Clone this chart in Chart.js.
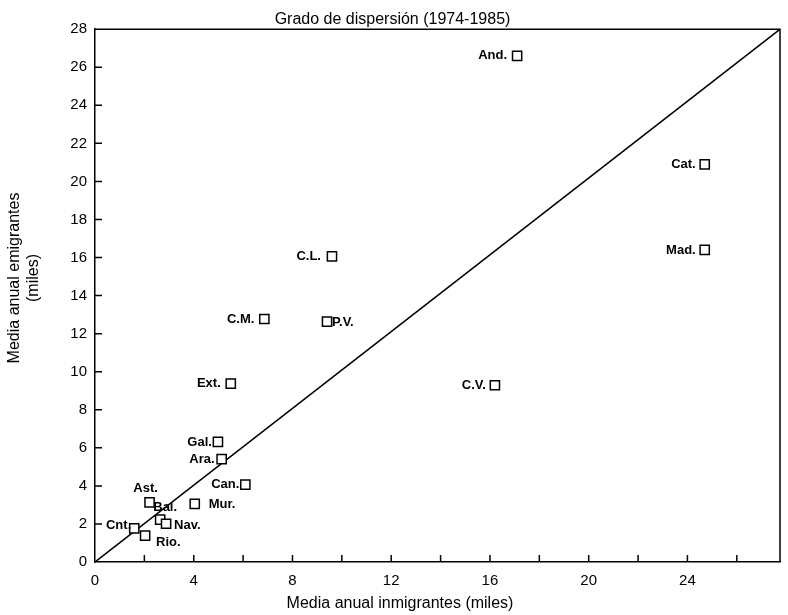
<!DOCTYPE html>
<html>
<head>
<meta charset="utf-8">
<script src="https://cdn.jsdelivr.net/npm/chart.js@4"></script>
<style>
  html, body { margin: 0; padding: 0; background: #fff; }
  canvas { display: block; }
</style>
</head>
<body>
<canvas id="myChart" width="788" height="615"></canvas>
<script>
// regions (comunidades autónomas)
const regions = ["And.", "Cat.", "Mad.", "C.L.", "C.M.", "P.V.", "C.V.", "Ext.", "Gal.", "Ara.", "Can.", "Mur.", "Ast.", "Bal.", "Nav.", "Cnt.", "Rio."];
// media anual inmigrantes (miles)
const inmigrantes = [17.1, 24.7, 24.7, 9.6, 6.86, 9.4, 16.2, 5.5, 4.98, 5.13, 6.09, 4.04, 2.21, 2.64, 2.88, 1.59, 2.03];
// media anual emigrantes (miles)
const emigrantes = [26.6, 20.9, 16.4, 16.06, 12.77, 12.63, 9.29, 9.37, 6.31, 5.41, 4.07, 3.05, 3.13, 2.23, 2.01, 1.77, 1.39];

const xMax = 27.75;
const yMax = 28;
const diagX = [0, xMax];
const diagY = [0, yMax];

const xTickLabels = [0, 4, 8, 12, 16, 20, 24];
const xTickMarks = [2, 4, 6, 8, 10, 12, 14, 16, 18, 20, 22, 24, 26];
const yTickLabels = [0, 2, 4, 6, 8, 10, 12, 14, 16, 18, 20, 22, 24, 26, 28];
const yTickMarks = [2, 4, 6, 8, 10, 12, 14, 16, 18, 20, 22, 24, 26];

// where each region label sits next to its square
const labelAlign = ["right", "right", "right", "right", "right", "left", "right", "right", "right", "right", "right", "left", "center", "center", "left", "right", "left"];
const labelDx = [-10, -9, -9, -11, -10, 5, -9, -10, -6, -7, -6, 14, -4, 5, 8, -3, 11];
const labelDy = [0, 0, 0, 0, 0, 1, 0, 0, 0, 0, 0, 0, -14, -12, 2, -3, 7];

const titleFont = '16px "Liberation Sans", Arial, sans-serif';

const extras = {
  id: "extras",
  afterDatasetsDraw(chart) {
    const { ctx, chartArea: a, scales: { x, y } } = chart;
    ctx.save();
    ctx.strokeStyle = "#000";
    ctx.lineWidth = 1.5;
    ctx.beginPath();
    // top and right side of the box
    ctx.moveTo(a.left, a.top);
    ctx.lineTo(a.right, a.top);
    ctx.lineTo(a.right, a.bottom);
    // tick marks point into the plot
    xTickMarks.forEach((v) => {
      const px = x.getPixelForValue(v);
      ctx.moveTo(px, a.bottom);
      ctx.lineTo(px, a.bottom - 7);
    });
    yTickMarks.forEach((v) => {
      const py = y.getPixelForValue(v);
      ctx.moveTo(a.left, py);
      ctx.lineTo(a.left + 7, py);
    });
    ctx.stroke();

    // region labels
    ctx.fillStyle = "#000";
    ctx.font = 'bold 13px "Liberation Sans", Arial, sans-serif';
    ctx.textBaseline = "middle";
    regions.forEach((name, i) => {
      const px = x.getPixelForValue(inmigrantes[i]);
      const py = y.getPixelForValue(emigrantes[i]);
      ctx.textAlign = labelAlign[i];
      ctx.fillText(name, px + labelDx[i], py + labelDy[i]);
    });

    // axis titles
    ctx.font = titleFont;
    ctx.textAlign = "center";
    ctx.fillText("Media anual inmigrantes (miles)", 400, 604);
    ctx.translate(15, 278);
    ctx.rotate(-Math.PI / 2);
    ctx.fillText("Media anual emigrantes", 0, 0);
    ctx.fillText("(miles)", 0, 19);
    ctx.restore();
  },
};

const ctx = document.getElementById("myChart");

new Chart(ctx, {
  type: "scatter",
  data: {
    datasets: [
      {
        type: "line",
        data: diagX.map((v, i) => ({ x: v, y: diagY[i] })),
        borderColor: "#000",
        borderWidth: 1.5,
        pointRadius: 0,
        fill: false,
        order: 2,
      },
      {
        data: inmigrantes.map((v, i) => ({ x: v, y: emigrantes[i] })),
        pointStyle: "rect",
        pointRadius: 6.5,
        borderWidth: 1.5,
        borderColor: "#000",
        backgroundColor: "#fff",
        order: 1,
      },
    ],
  },
  options: {
    responsive: false,
    animation: false,
    devicePixelRatio: 1,
    layout: {
      padding: { left: 0, right: 3, top: 0, bottom: 0 },
    },
    scales: {
      x: {
        type: "linear",
        min: 0,
        max: xMax,
        afterBuildTicks: (s) => {
          s.ticks = xTickLabels.map((v) => ({ value: v }));
        },
        afterFit: (s) => {
          s.height = 53;
        },
        grid: { display: false, drawTicks: false },
        border: { display: true, color: "#000", width: 1.5 },
        ticks: {
          color: "#000",
          padding: 10,
          maxRotation: 0,
          font: { family: '"Liberation Sans", Arial, sans-serif', size: 15 },
        },
      },
      y: {
        type: "linear",
        min: 0,
        max: yMax,
        afterBuildTicks: (s) => {
          s.ticks = yTickLabels.map((v) => ({ value: v }));
        },
        afterFit: (s) => {
          s.width = 95;
        },
        grid: { display: false, drawTicks: false },
        border: { display: true, color: "#000", width: 1.5 },
        ticks: {
          color: "#000",
          padding: 8,
          font: { family: '"Liberation Sans", Arial, sans-serif', size: 15 },
        },
      },
    },
    plugins: {
      legend: { display: false },
      tooltip: { enabled: false },
      title: {
        display: true,
        text: "Grado de dispersión (1974-1985)",
        color: "#000",
        font: { family: '"Liberation Sans", Arial, sans-serif', size: 16, weight: "normal" },
        padding: { top: 10, bottom: 0 },
      },
    },
  },
  plugins: [extras],
});
</script>
</body>
</html>
